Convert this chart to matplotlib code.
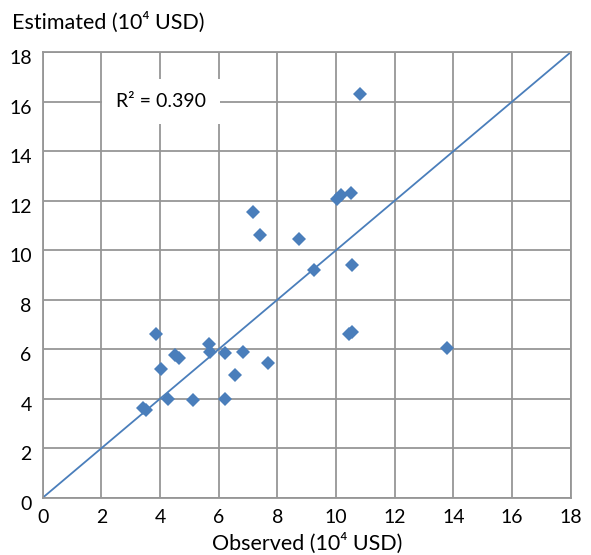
"""Scatter of estimated vs observed values with a 1:1 reference line."""

import matplotlib

matplotlib.use("Agg")

import matplotlib.pyplot as plt  # noqa: E402
import matplotlib.transforms as mtransforms  # noqa: E402

plt.rcParams["font.family"] = ["Lato", "DejaVu Sans"]

POINT_COLOR = "#4A7EBB"
GRID_COLOR = "#969696"

observed = [
    10.81, 7.18, 7.40, 8.72, 10.02, 10.16, 10.50, 9.25, 10.56, 10.43,
    10.56, 13.79, 3.86, 5.66, 5.70, 6.21, 6.82, 4.51, 4.64, 7.67,
    4.04, 6.55, 4.26, 5.11, 6.20, 3.41, 3.51,
]
estimated = [
    16.31, 11.56, 10.61, 10.44, 12.07, 12.23, 12.32, 9.20, 9.40, 6.60,
    6.70, 6.04, 6.63, 6.20, 5.90, 5.85, 5.88, 5.77, 5.64, 5.45,
    5.19, 4.96, 4.00, 3.95, 3.99, 3.64, 3.54,
]
ref_line = [0, 18]
ticks = list(range(0, 19, 2))
r_squared = 0.390

fig = plt.figure(figsize=(5.91, 5.55), dpi=100)
ax = fig.add_axes([0.0723, 0.1032, 0.8934, 0.8028])

ax.plot(ref_line, ref_line, color=POINT_COLOR, linewidth=1.3, zorder=2)
ax.plot(observed, estimated, linestyle="none", marker="D", markersize=7,
        color=POINT_COLOR, markeredgewidth=0, zorder=3)

ax.set_xlim(0, 18)
ax.set_ylim(0, 18)
ax.set_xticks(ticks)
ax.set_yticks(ticks)
ax.grid(True, color=GRID_COLOR, linewidth=1.3, zorder=0)
ax.set_axisbelow(True)
for spine in ax.spines.values():
    spine.set_color(GRID_COLOR)
    spine.set_linewidth(1.3)
ax.tick_params(length=0, labelsize=14, colors="black")
ax.tick_params(axis="x", pad=8)
ax.tick_params(axis="y", pad=8)

# y labels sit a little below their grid lines
shift = mtransforms.ScaledTranslation(0, -5 / 100, fig.dpi_scale_trans)
for label in ax.get_yticklabels():
    label.set_transform(label.get_transform() + shift)

ax.text(4.03, 16.0, f"R² = {r_squared:.3f}", fontsize=14, ha="center",
        va="center", zorder=4,
        bbox=dict(facecolor="white", edgecolor="none", pad=10))

fig.text(12 / 591, 1 - 22 / 555, "Estimated (10⁴ USD)", fontsize=15.5,
         ha="left", va="center")
fig.text(307 / 591, 1 - 543 / 555, "Observed (10⁴ USD)", fontsize=15.5,
         ha="center", va="center")

fig.savefig("out.png", dpi=100)
plt.close(fig)
